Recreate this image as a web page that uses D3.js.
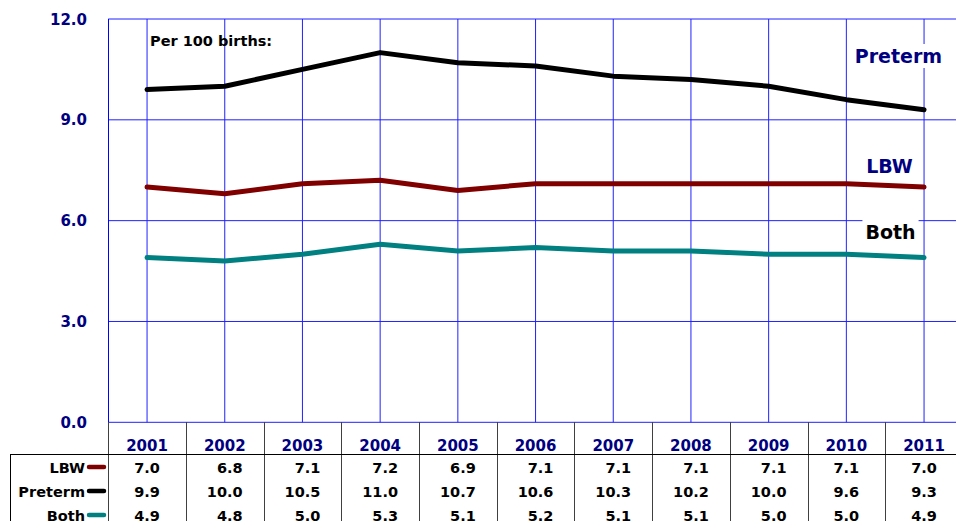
<!DOCTYPE html>
<html><head><meta charset="utf-8">
<script src="https://cdn.jsdelivr.net/npm/d3@7/dist/d3.min.js"></script>
<style>body{margin:0;background:#fff}svg{display:block}</style>
</head><body>
<svg id="c" width="956" height="521"></svg>
<script>
const years = ["2001","2002","2003","2004","2005","2006","2007","2008","2009","2010","2011"];
const lbw = [7.0,6.8,7.1,7.2,6.9,7.1,7.1,7.1,7.1,7.1,7.0];
const preterm = [9.9,10.0,10.5,11.0,10.7,10.6,10.3,10.2,10.0,9.6,9.3];
const both = [4.9,4.8,5.0,5.3,5.1,5.2,5.1,5.1,5.0,5.0,4.9];
const yTicks = [0,3,6,9,12];
const seriesNames = ["LBW","Preterm","Both"];
const seriesColors = ["#800000","#000000","#008080"];
const labelColors = ["#000080","#000080","#000000"];

const series = [lbw, preterm, both];
const font = "'DejaVu Sans', Verdana, sans-serif";
const svg = d3.select("#c");
const x = d3.scaleBand().domain(years).range([108.2, 962.9]);
const y = d3.scaleLinear().domain([0,12]).range([422.3, 19]);
const cx = d => x(d) + x.bandwidth()/2;

// grid
const g = svg.append("g");
g.selectAll(".hg").data(yTicks).join("line")
  .attr("x1", x.range()[0]).attr("x2", x.range()[1])
  .attr("y1", d => y(d)).attr("y2", d => y(d))
  .attr("stroke", "#2020ff").attr("stroke-width", 1);
g.selectAll(".vg").data(years).join("line")
  .attr("x1", d => cx(d)).attr("x2", d => cx(d))
  .attr("y1", y(12)).attr("y2", y(0))
  .attr("stroke", "#2020ff").attr("stroke-width", 1);
g.append("line").attr("x1", 108.5).attr("x2", 108.5).attr("y1", y(12)).attr("y2", y(0))
  .attr("stroke", "#0000ff").attr("stroke-width", 1);

// y labels
svg.selectAll(".yl").data(yTicks).join("text")
  .attr("x", 87).attr("y", d => y(d) + 5.5)
  .attr("text-anchor", "end").attr("font-family", font).attr("font-weight", "bold")
  .attr("font-size", "15px").attr("fill", "#000080")
  .text(d => d3.format(".1f")(d));

// series labels with white background
const labelPos = [{x:889.5, y:173},{x:898.5, y:63},{x:890.5, y:239}];
seriesNames.forEach((n,i) => {
  const t = svg.append("text").attr("x", labelPos[i].x).attr("y", labelPos[i].y)
    .attr("text-anchor","middle").attr("font-family", font).attr("font-weight","bold")
    .attr("font-size","19px").attr("fill", labelColors[i]).text(n);
  const b = t.node().getBBox();
  svg.insert("rect", () => t.node()).attr("x", b.x-3).attr("y", b.y-1)
    .attr("width", b.width+6).attr("height", b.height+2).attr("fill","#fff");
});

svg.append("text").attr("x", 150).attr("y", 46).attr("font-family", font)
  .attr("font-weight","bold").attr("font-size","14.5px").attr("fill","#000")
  .text("Per 100 births:");

// lines
const line = d3.line().x((d,i) => cx(years[i])).y(d => y(d));
series.forEach((s,i) => {
  svg.append("path").attr("d", line(s)).attr("fill","none")
    .attr("stroke", seriesColors[i]).attr("stroke-width", 5)
    .attr("stroke-linejoin","round").attr("stroke-linecap","round");
});

// data table
const tb = svg.append("g");
const sepX = [x.range()[0]].concat(years.map(d => x(d) + x.bandwidth()));
tb.selectAll(".cs").data(sepX).join("line")
  .attr("x1", d => Math.round(d)+0.5).attr("x2", d => Math.round(d)+0.5)
  .attr("y1", 422).attr("y2", 521)
  .attr("stroke", "#404040").attr("stroke-width", 1);
tb.append("line").attr("x1", 10).attr("x2", 956).attr("y1", 454.5).attr("y2", 454.5)
  .attr("stroke","#000").attr("stroke-width",1);
tb.append("line").attr("x1", 10.5).attr("x2", 10.5).attr("y1", 454.5).attr("y2", 521)
  .attr("stroke","#000").attr("stroke-width",1);

tb.selectAll(".yr").data(years).join("text")
  .attr("x", d => cx(d)).attr("y", 451).attr("text-anchor","middle")
  .attr("font-family", font).attr("font-weight","bold").attr("font-size","15px")
  .attr("fill","#000080").text(d => d);

const rowY = [473, 497, 521];
seriesNames.forEach((n,i) => {
  tb.append("text").attr("x", 85).attr("y", rowY[i]).attr("text-anchor","end")
    .attr("font-family", font).attr("font-weight","bold").attr("font-size","14.5px")
    .attr("fill","#000").text(n);
  tb.append("line").attr("x1", 89).attr("x2", 104).attr("y1", rowY[i]-6).attr("y2", rowY[i]-6)
    .attr("stroke", seriesColors[i]).attr("stroke-width", 4.5).attr("stroke-linecap","round");
});

// measure max width per column for right alignment
const meas = svg.append("text").attr("font-family", font).attr("font-weight","bold")
  .attr("font-size","14.5px");
const wOf = s => { meas.text(s); return meas.node().getComputedTextLength(); };
const colRight = years.map((yr,j) => {
  const w = d3.max(series, s => wOf(d3.format(".1f")(s[j])));
  return cx(yr) + w/2;
});
meas.remove();
series.forEach((s,i) => {
  tb.selectAll(".v"+i).data(s).join("text")
    .attr("x", (d,j) => colRight[j]).attr("y", rowY[i]).attr("text-anchor","end")
    .attr("font-family", font).attr("font-weight","bold").attr("font-size","14.5px")
    .attr("fill","#000").text(d => d3.format(".1f")(d));
});
</script>
</body></html>
